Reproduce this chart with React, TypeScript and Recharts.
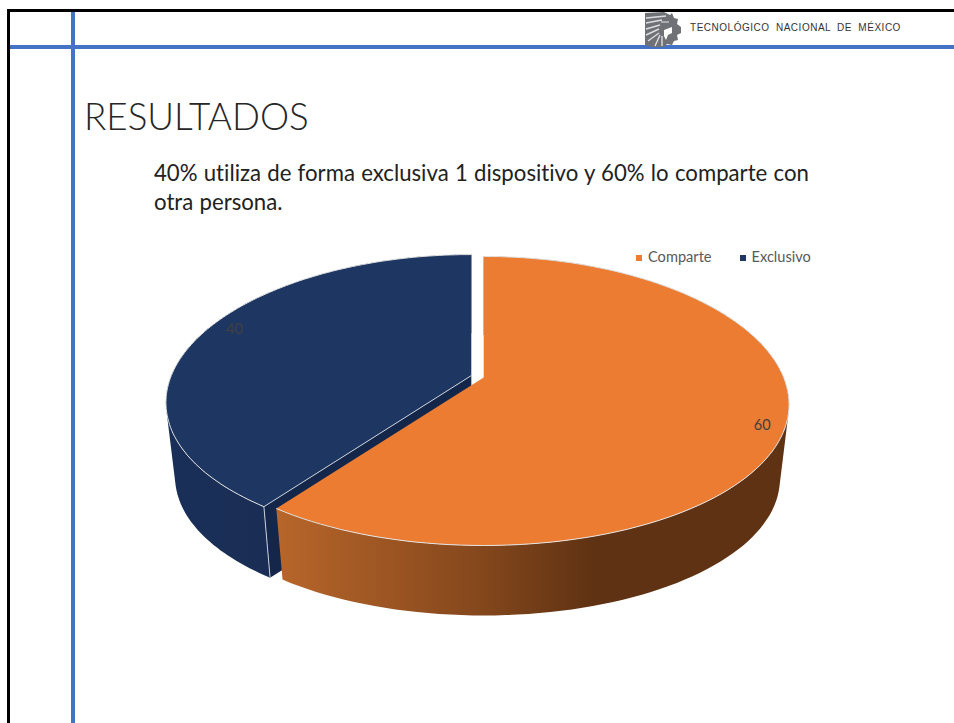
import React from 'react'
import { PieChart, Pie, Legend } from 'recharts'

// drawn back to front, the legend sorts them by name
const sliceNames = ['Exclusivo', 'Comparte']
const sliceValues = [40, 60]
const sliceColors = ['#1E3762', '#EB7C31']
const wallFills = ['url(#navyWall)', 'url(#orangeWall)']

const pieData = sliceNames.map((name, i) => ({
  name,
  value: sliceValues[i],
  fill: sliceColors[i],
  wall: wallFills[i],
}))

const RAD = Math.PI / 180
const TILT = 0.1628 // perspective of the tilted disc
const FLATTEN = 0.469 // height / width of the top face
const DEPTH = 75
const BOTTOM_SCALE = 0.97
const EXPLODE = 6.5

// polar point on the disc, seen in perspective
function project(angle: number, r: number) {
  const s = Math.sin(angle * RAD)
  const w = 1 + TILT * s
  return { x: (r * Math.cos(angle * RAD)) / Math.pow(w, 1.15), y: (-r * FLATTEN * s) / w }
}

function explodedCentre(cx: number, cy: number, mid: number) {
  return {
    ox: cx + EXPLODE * Math.cos(mid * RAD),
    oy: cy - EXPLODE * FLATTEN * Math.sin(mid * RAD),
  }
}

type Pt = { x: number; y: number }

function arcPoints(start: number, end: number, r: number, ox: number, oy: number, scale = 1, dz = 0) {
  const steps = 120
  const pts: Pt[] = []
  for (let i = 0; i <= steps; i++) {
    const p = project(start + ((end - start) * i) / steps, r)
    pts.push({ x: ox + p.x * scale, y: oy + dz + p.y * scale })
  }
  return pts
}

const str = (pts: Pt[]) => pts.map(p => `${p.x.toFixed(1)},${p.y.toFixed(1)}`).join(' ')

// side wall as one path of small quads, all wound the same way so they union
function wallPath(top: Pt[], bottom: Pt[]) {
  let d = ''
  for (let i = 0; i < top.length - 1; i++) {
    let q = [top[i], top[i + 1], bottom[i + 1], bottom[i]]
    let area = 0
    q.forEach((p, k) => {
      const n = q[(k + 1) % 4]
      area += p.x * n.y - n.x * p.y
    })
    if (area < 0) q = [...q].reverse()
    d += 'M' + q.map(p => `${p.x.toFixed(1)} ${p.y.toFixed(1)}`).join('L') + 'Z'
  }
  return d
}

function Slice3D(props: any) {
  const { cx, cy, outerRadius, startAngle, endAngle, fill, payload } = props
  const { ox, oy } = explodedCentre(cx, cy, (startAngle + endAngle) / 2)
  const top = arcPoints(startAngle, endAngle, outerRadius, ox, oy)
  const bottom = arcPoints(startAngle, endAngle, outerRadius, ox, oy, BOTTOM_SCALE, DEPTH)
  const apex = { x: ox, y: oy }
  const isNavy = payload.name === 'Exclusivo'
  return (
    <g>
      <path d={wallPath(top, bottom)} fill={payload.wall} fillRule="nonzero" />
      {isNavy && (
        <polygon points={str([top[0], apex, { x: ox, y: oy + DEPTH }, bottom[0]])} fill="#14264A" />
      )}
      <polygon points={str([apex, ...top])} fill={fill} />
      <polyline points={str(top)} fill="none" stroke="#E4E4E4" strokeWidth={1} />
      {isNavy && (
        <>
          <polyline points={str([top[0], apex])} fill="none" stroke="#C8CDD6" strokeWidth={1} />
          <polyline points={str([top[0], bottom[0]])} fill="none" stroke="#C8CDD6" strokeWidth={1} />
        </>
      )}
    </g>
  )
}

function SliceLabel(props: any) {
  const { cx, cy, outerRadius, midAngle, value } = props
  const p = project(midAngle, outerRadius * 0.93)
  const { ox, oy } = explodedCentre(cx, cy, midAngle)
  // PowerPoint sets the small slice's label further in and up
  const nudge = value < 50 ? { x: 14, y: -9 } : { x: -3, y: 4 }
  return (
    <text
      x={ox + p.x + nudge.x}
      y={oy + p.y + nudge.y}
      textAnchor="middle"
      dominantBaseline="central"
      fontSize={14.5}
      fontFamily="Lato, sans-serif"
      fill="#404040"
    >
      {value}
    </text>
  )
}

const abs = (left: number, top: number, width: number, height: number, background: string): React.CSSProperties => ({
  position: 'absolute',
  left,
  top,
  width,
  height,
  background,
})

function Logo() {
  return (
    <svg style={{ position: 'absolute', left: 642, top: 9 }} width={42} height={40}>
      <path
        d="M3 4 L22 3 L28 6 L30 4 L32 9 L36 10 L35 15 L39 18 L39 24 L35 26 L36 31 L32 32 L30 36 L25 35 L22 38 L10 38 L3 36 Z"
        fill="#6F7176"
      />
      <path
        d="M4 9 L24 7 M4 14 L20 11 M4 20 L18 16 M4 26 L17 20 M6 32 L17 24 M13 37 L18 26 M20 37 L20 27"
        stroke="#DCDDDF"
        strokeWidth={1.4}
      />
      <path d="M22 21 L30 18 L30 24 L26 26 L24 31 L22 27 Z" fill="#fff" />
      <path d="M19 13 L27 13" stroke="#E4E5E6" strokeWidth={1} />
    </svg>
  )
}

const bodyLine: React.CSSProperties = {
  position: 'absolute',
  left: 154,
  fontFamily: 'Lato, sans-serif',
  fontSize: 22.2,
  fontVariantLigatures: 'none',
  wordSpacing: 0.55,
  lineHeight: '29px',
  color: '#222',
  whiteSpace: 'nowrap',
}

export default function App() {
  return (
    <div style={{ position: 'absolute', left: 0, top: 0, width: 954, height: 723, background: '#fff', overflow: 'hidden' }}>
      <div style={abs(7, 9, 947, 3, '#000')} />
      <div style={abs(7, 9, 3, 714, '#000')} />
      <div style={abs(10, 45, 944, 4, '#4472C4')} />
      <div style={abs(71, 12, 4, 711, '#4472C4')} />
      <Logo />
      <div
        style={{
          position: 'absolute',
          left: 690,
          top: 22,
          fontFamily: '"Liberation Sans", sans-serif',
          fontSize: 10,
          letterSpacing: 0.52,
          wordSpacing: 3,
          color: '#333',
          whiteSpace: 'nowrap',
        }}
      >
        TECNOLÓGICO NACIONAL DE MÉXICO
      </div>
      <div
        style={{
          position: 'absolute',
          left: 84,
          top: 94,
          fontFamily: 'Lato, sans-serif',
          fontWeight: 300,
          fontSize: 36.8,
          color: '#262626',
          whiteSpace: 'nowrap',
        }}
      >
        RESULTADOS
      </div>
      <div style={{ ...bodyLine, top: 158 }}>
        40% utiliza de forma exclusiva 1 dispositivo y 60% lo comparte con
      </div>
      <div style={{ ...bodyLine, top: 187 }}>otra persona.</div>
      <div style={{ position: 'absolute', left: 0, top: 0 }}>
        <PieChart width={954} height={723} margin={{ top: 0, right: 0, bottom: 0, left: 0 }}>
          <defs>
            <linearGradient id="orangeWall" gradientUnits="userSpaceOnUse" x1={276} y1={0} x2={790} y2={0}>
              <stop offset="0" stopColor="#B8662A" />
              <stop offset="0.4" stopColor="#84471C" />
              <stop offset="0.62" stopColor="#5F3213" />
              <stop offset="1" stopColor="#5F3213" />
            </linearGradient>
            <linearGradient id="navyWall" gradientUnits="userSpaceOnUse" x1={166} y1={0} x2={270} y2={0}>
              <stop offset="0" stopColor="#1A2F58" />
              <stop offset="1" stopColor="#1A2E55" />
            </linearGradient>
          </defs>
          <Pie
            data={pieData}
            dataKey="value"
            nameKey="name"
            cx={477.5}
            cy={356.5}
            outerRadius={300}
            startAngle={234}
            endAngle={-126}
            stroke="none"
            shape={Slice3D}
            label={SliceLabel}
            labelLine={false}
            isAnimationActive={false}
          />
          <Legend
            layout="horizontal"
            align="left"
            verticalAlign="top"
            iconType="square"
            iconSize={6}
            wrapperStyle={{ position: 'absolute', left: 636, top: 248, width: 300, height: 20 }}
            formatter={(value: string) => (
              <span
                style={{
                  color: '#595959',
                  fontFamily: 'Lato, sans-serif',
                  fontSize: 14.6,
                  marginLeft: 2,
                  marginRight: 18,
                }}
              >
                {value}
              </span>
            )}
          />
        </PieChart>
      </div>
    </div>
  )
}
